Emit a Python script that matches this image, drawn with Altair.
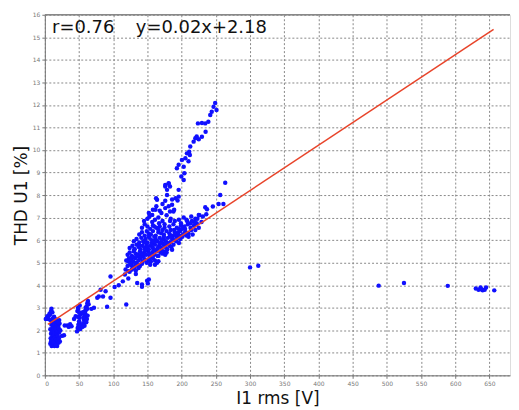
import altair as alt
import pandas as pd

# ---- data ----
cluster_a_x = [8, 8.5, 9, 8, 9.5, 8.2, 10, 10.5, 11, 10.2, 11.5, 10.8, 12, 12.5, 13, 12.2, 13.5, 12.8,
               14, 14.5, 15, 14.2, 15.5, 14.8, 16, 16.5, 17, 16.2, 17.5, 16.8, 18, 18.5, 19, 18.2, 19.5, 18.8,
               20, 20.5, 21, 20.2, 21.5, 22, 22.5, 11, 13, 15, 17, 19, 9, 21, 12, 16, 20,
               4, 5, 6, 7, 9.7, 7.5, 3.8, 1.4, 12.7, 11, 13.5, 9]
cluster_a_y = [1.4, 1.65, 1.85, 2.05, 2.25, 2.45, 1.3, 1.55, 1.75, 1.95, 2.15, 2.35, 1.35, 1.6, 1.8, 2.0, 2.2, 2.4,
               1.3, 1.5, 1.7, 1.9, 2.1, 2.3, 1.4, 1.6, 1.85, 2.05, 2.25, 2.45, 1.3, 1.55, 1.75, 1.95, 2.2, 2.4,
               1.45, 1.65, 1.9, 2.1, 2.3, 1.5, 2.0, 2.5, 2.55, 2.5, 2.45, 2.35, 1.5, 2.45, 1.45, 1.35, 2.35,
               2.6, 2.5, 2.65, 2.75, 2.96, 2.7, 2.62, 2.5, 2.57, 2.8, 2.6, 2.85]

cluster_b_x = [47, 48, 49, 50, 51, 52, 47.5, 48.5, 49.5, 50.5, 51.5, 48, 50, 52, 49, 51,
               55, 56, 57, 58, 59, 60, 61, 62, 63, 56.5, 57.5, 58.5, 59.5, 60.5, 61.5, 62.5, 55.5, 58, 60, 62, 64,
               29, 33, 39, 28, 37, 42.7, 45, 25, 35]
cluster_b_y = [1.95, 2.1, 2.25, 2.4, 2.55, 2.7, 2.85, 3.0, 2.15, 2.35, 2.05, 2.6, 2.8, 2.2, 2.95, 3.1,
               2.15, 2.3, 2.45, 2.6, 2.75, 2.9, 3.05, 3.2, 3.3, 2.55, 2.7, 2.85, 3.0, 2.35, 2.5, 2.65, 2.8, 2.2, 2.4, 2.95, 3.15,
               2.21, 2.21, 2.18, 1.78, 2.27, 2.5, 2.62, 1.75, 2.15]

mid_x = [71.8, 76.6, 78.9, 81.5, 88.8, 91, 96, 96, 102, 119, 114, 117, 122,
         142, 142, 149.5, 152, 150.5, 135, 133, 68, 85, 108]
mid_y = [3.0, 3.44, 3.5, 3.8, 3.73, 3.04, 3.44, 4.39, 3.92, 3.14, 4.17, 4.47, 4.3,
         4.03, 3.93, 4.2, 4.25, 4.08, 4.1, 4.5, 2.95, 3.5, 4.0]

core_x = [118, 121, 124, 126, 128, 131, 133, 136, 139, 142, 127, 122,
          119, 123, 126, 129, 132, 134, 137, 140, 143, 146, 149, 152, 155, 158, 161, 164,
          121, 124, 127, 130, 133, 136, 139, 142, 145, 148, 151, 154, 157, 160, 163, 166, 169, 172, 175, 178,
          124, 128, 131, 134, 137, 140, 143, 146, 149, 152, 155, 158, 161, 164, 167, 170, 173, 176, 179, 182, 185, 188,
          130, 134, 138, 141, 144, 147, 150, 153, 156, 159, 162, 165, 168, 171, 174, 177, 180, 183, 186, 189, 192, 195, 198, 201,
          138, 142, 146, 149, 152, 155, 158, 162, 166, 170, 174, 178, 182, 186, 190, 194, 198, 202, 206, 210, 214,
          142, 146, 150, 154, 158, 163, 168, 175, 182, 188, 193, 199, 204, 209, 213, 218, 222,
          145, 150, 153, 157, 161, 166, 172, 178, 184, 190, 196, 203, 208, 214, 220, 226, 231,
          152, 158, 163, 168, 172, 176, 181, 186, 189,
          125, 132, 138, 144, 147, 153, 159, 165, 171, 150, 156, 162, 168, 174, 180, 186, 192, 197,
          160, 166, 172, 184, 196, 205, 210, 216, 220, 225, 229, 236,
          166, 161, 176, 186, 196, 154, 137, 127, 122, 205,
          129, 135, 141, 147, 153, 159, 165, 171, 177, 183, 189, 195, 201, 207, 213, 219,
          131, 138, 145, 152, 160, 167, 175, 183, 191, 199, 207, 215, 223]
core_y = [4.7, 4.85, 4.6, 4.9, 4.75, 4.8, 4.65, 4.9, 4.85, 4.95, 5.0, 5.05,
          5.1, 5.2, 5.15, 5.05, 5.2, 5.0, 5.1, 5.2, 5.05, 5.15, 5.0, 5.1, 5.05, 5.2, 5.1, 5.0,
          5.35, 5.45, 5.3, 5.5, 5.4, 5.35, 5.5, 5.3, 5.45, 5.35, 5.5, 5.3, 5.45, 5.35, 5.5, 5.3, 5.45, 5.4, 5.5, 5.45,
          5.65, 5.75, 5.6, 5.8, 5.7, 5.6, 5.75, 5.65, 5.8, 5.6, 5.75, 5.65, 5.8, 5.6, 5.75, 5.65, 5.8, 5.7, 5.6, 5.75, 5.7, 5.8,
          5.95, 6.05, 5.9, 6.1, 5.95, 6.05, 5.9, 6.1, 6.0, 5.9, 6.05, 5.95, 6.1, 5.9, 6.05, 5.95, 6.1, 5.9, 6.05, 6.0, 5.95, 6.1, 6.05, 6.15,
          6.25, 6.35, 6.2, 6.4, 6.3, 6.25, 6.4, 6.2, 6.35, 6.3, 6.25, 6.4, 6.3, 6.2, 6.35, 6.3, 6.4, 6.25, 6.35, 6.3, 6.45,
          6.55, 6.7, 6.6, 6.5, 6.65, 6.55, 6.6, 6.55, 6.6, 6.7, 6.55, 6.65, 6.6, 6.7, 6.55, 6.65, 6.75,
          6.85, 6.95, 7.05, 6.8, 6.9, 7.0, 6.85, 7.1, 6.95, 6.85, 6.9, 7.0, 6.85, 7.05, 6.95, 7.1, 7.05,
          7.2, 7.35, 7.5, 7.3, 7.6, 7.75, 7.5, 7.8, 7.35,
          4.95, 4.9, 5.25, 5.3, 5.55, 5.4, 5.55, 5.65, 5.55, 5.7, 5.85, 5.95, 5.85, 6.15, 5.85, 6.15, 6.15, 6.2,
          6.15, 6.45, 6.45, 6.45, 6.5, 6.5, 6.15, 6.25, 6.45, 6.55, 6.8, 7.15,
          5.06, 4.91, 5.35, 5.57, 5.87, 4.91, 4.76, 4.69, 4.62, 6.35,
          5.25, 5.3, 5.4, 5.6, 5.2, 5.95, 5.3, 6.0, 5.85, 6.2, 6.45, 6.35, 6.5, 6.2, 6.75, 6.8,
          5.6, 5.75, 5.9, 6.15, 6.6, 6.75, 6.7, 6.85, 6.25, 6.75, 6.9, 6.85, 6.95]

branch_x = [249, 246.6, 244, 251, 241.8, 239, 234.5, 229.6, 223.8, 235, 229.6, 220, 225, 217.5, 222,
            212.6, 211, 207.7, 212, 205.4, 200.4, 210, 195.6, 203, 193, 204, 199.5, 203, 181, 176, 183,
            195.6, 178.6, 191, 164, 194, 186, 176, 183, 170.4, 161.7, 157, 176, 181, 178.6, 162.6, 195.6, 188,
            263.7, 256.4, 261, 254, 245.6, 234.5, 237, 225]
branch_y = [12.09, 11.92, 11.7, 11.77, 11.55, 11.25, 11.18, 11.2, 11.18, 10.81, 10.59, 10.52, 10.48, 10.37, 10.6,
            10.15, 9.92, 9.85, 9.78, 9.63, 9.56, 9.5, 9.34, 9.26, 9.19, 8.97, 8.82, 8.67, 8.53, 8.38, 8.38,
            8.23, 8.0, 7.86, 7.79, 7.76, 7.57, 7.42, 7.27, 7.2, 7.35, 7.12, 8.45, 8.5, 8.23, 7.86, 7.93, 7.27,
            8.55, 8.0, 7.6, 7.6, 7.49, 7.46, 7.37, 7.12]

far_x = [300, 312, 488, 525, 589, 630, 634, 637, 640, 643, 645, 657, 638]
far_y = [4.79, 4.86, 3.98, 4.10, 3.97, 3.85, 3.8, 3.9, 3.77, 3.8, 3.9, 3.77, 3.82]

fit_x = [4.4, 656]
fit_y = [2.26, 15.35]

labels_text = ["r=0.76", "y=0.02x+2.18"]
labels_x = [10.6, 133]
labels_y = [15.17, 15.17]

x_ticks = list(range(0, 700, 50))
y_ticks = list(range(0, 17))

pts = pd.DataFrame({
    "x": cluster_a_x + cluster_b_x + mid_x + core_x + branch_x + far_x,
    "y": cluster_a_y + cluster_b_y + mid_y + core_y + branch_y + far_y,
})
fit = pd.DataFrame({"x": fit_x, "y": fit_y})
lab = pd.DataFrame({"t": labels_text, "x": labels_x, "y": labels_y})
top = pd.DataFrame({"y": [16]})

FONT = "DejaVu Sans"
xs = alt.Scale(domain=[0, 680], nice=False, zero=False)
ys = alt.Scale(domain=[0, 16], nice=False, zero=False)

xax = alt.Axis(values=x_ticks, title="I1 rms [V]", labelFontSize=6, labelColor="#777",
               labelOverlap=False,
               titleFontSize=17, titleFont=FONT, titleFontWeight="normal", titleColor="#111",
               grid=True, gridDash=[2, 2], gridColor="#888", gridWidth=1,
               domainColor="#777", tickColor="#777", tickSize=3, labelPadding=2, titlePadding=4,
               labelFont=FONT)
yax = alt.Axis(values=y_ticks, title="THD U1 [%]", labelFontSize=6, labelColor="#777",
               labelOverlap=False,
               titleFontSize=17, titleFont=FONT, titleFontWeight="normal", titleColor="#111",
               grid=True, gridDash=[2, 2], gridColor="#888", gridWidth=1,
               domainColor="#777", tickColor="#777", tickSize=3, labelPadding=2, titlePadding=2,
               labelFont=FONT)

X = alt.X("x:Q", scale=xs, axis=xax)
Y = alt.Y("y:Q", scale=ys, axis=yax)

points = alt.Chart(pts).mark_circle(size=20, color="#1010ff", opacity=1).encode(x=X, y=Y)
line = alt.Chart(fit).mark_line(color="#e8442a", strokeWidth=1.5).encode(x=X, y=Y)
border = alt.Chart(top).mark_rule(color="#888", strokeWidth=1.5).encode(y=Y)
text = alt.Chart(lab).mark_text(align="left", baseline="alphabetic", fontSize=18, font=FONT,
                                color="#111").encode(x=X, y=Y, text="t:N")

chart = alt.layer(points, line, border, text).properties(
    width=467, height=362, padding={"left": 4, "top": 3, "right": 0, "bottom": 0}
).configure_view(stroke=None).configure(background="white")

chart.save("out.html", embed_options={"renderer": "svg", "actions": False})
